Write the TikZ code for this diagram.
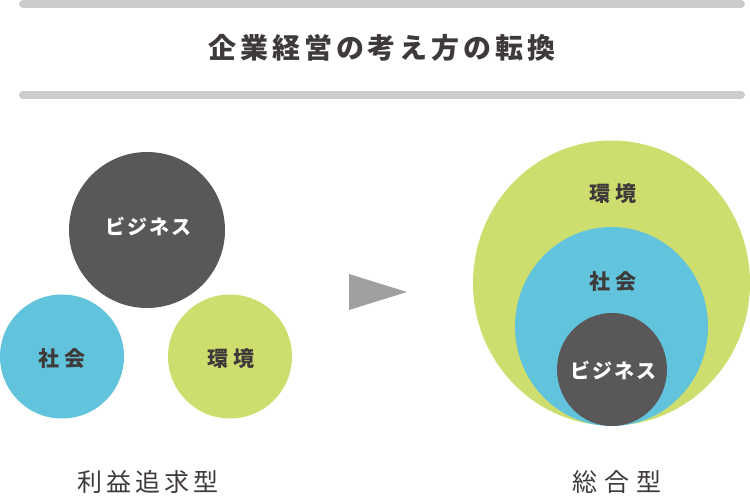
\documentclass[tikz,border=0pt]{standalone}
\usepackage{fontspec}
\setmainfont{Noto Sans CJK JP}
\definecolor{bargray}{HTML}{CCCCCC}
\definecolor{darkc}{HTML}{595757}
\definecolor{bluec}{HTML}{62C3DC}
\definecolor{greenc}{HTML}{CDDE6E}
\definecolor{txt}{HTML}{3E3A39}
\definecolor{arrowg}{HTML}{A0A0A0}
\newcommand{\lsp}[3]{\fontsize{#1}{#1}\selectfont\addfontfeatures{LetterSpace=#2}#3}
\tikzset{
  bar/.style={draw=bargray, line width=8pt, line cap=round},
  lbl/.style={anchor=base, inner sep=0pt, text=txt},
  inlbl/.style={anchor=base, inner sep=0pt, text=txt, font=\bfseries},
  wlbl/.style={anchor=base, inner sep=0pt, text=white, font=\bfseries},
}
\begin{document}
\begin{tikzpicture}[x=1pt,y=-1pt]
\useasboundingbox (0,0) rectangle (750,498);
\begin{scope}
\clip (0,0) rectangle (750,498);
% bars
\coordinate (b1l) at (23,4); \coordinate (b1r) at (741,4);
\coordinate (b2l) at (23,95); \coordinate (b2r) at (741,95);
\draw[bar] (b1l) -- (b1r);
\draw[bar] (b2l) -- (b2r);
\node[lbl, font=\bfseries] (title) at (382,58) {\lsp{28}{14}{企業経営の考え方の転換}};
% left: separate circles
\fill[darkc] (147,230) circle[radius=78];
\fill[bluec] (62,356.5) circle[radius=62];
\fill[greenc] (230,356.5) circle[radius=62];
\node[wlbl] (biz1) at (148.5,234.5) {\lsp{20}{10}{ビジネス}};
\node[inlbl] (soc1) at (62,366) {\lsp{21}{20}{社会}};
\node[inlbl] (env1) at (231,366) {\lsp{21}{20}{環境}};
% arrow
\fill[arrowg] (349,274) -- (407,292) -- (349,310) -- cycle;
% right: nested
\fill[greenc] (611.5,283) ellipse[x radius=138.5, y radius=142.5];
\fill[bluec] (611.5,326.5) ellipse[x radius=96.5, y radius=99.5];
\fill[darkc] (612,369.5) ellipse[x radius=55, y radius=56.5];
\node[inlbl] (env2) at (613,201) {\lsp{21}{20}{環境}};
\node[inlbl] (soc2) at (613,289) {\lsp{21}{20}{社会}};
\node[wlbl] (biz2) at (613,378.5) {\lsp{20}{10}{ビジネス}};
% labels
\node[lbl] (lab1) at (148,491) {\lsp{25}{16}{利益追求型}};
\node[lbl] (lab2) at (617,491) {\lsp{25}{28}{総合型}};
\end{scope}
\end{tikzpicture}
\end{document}
